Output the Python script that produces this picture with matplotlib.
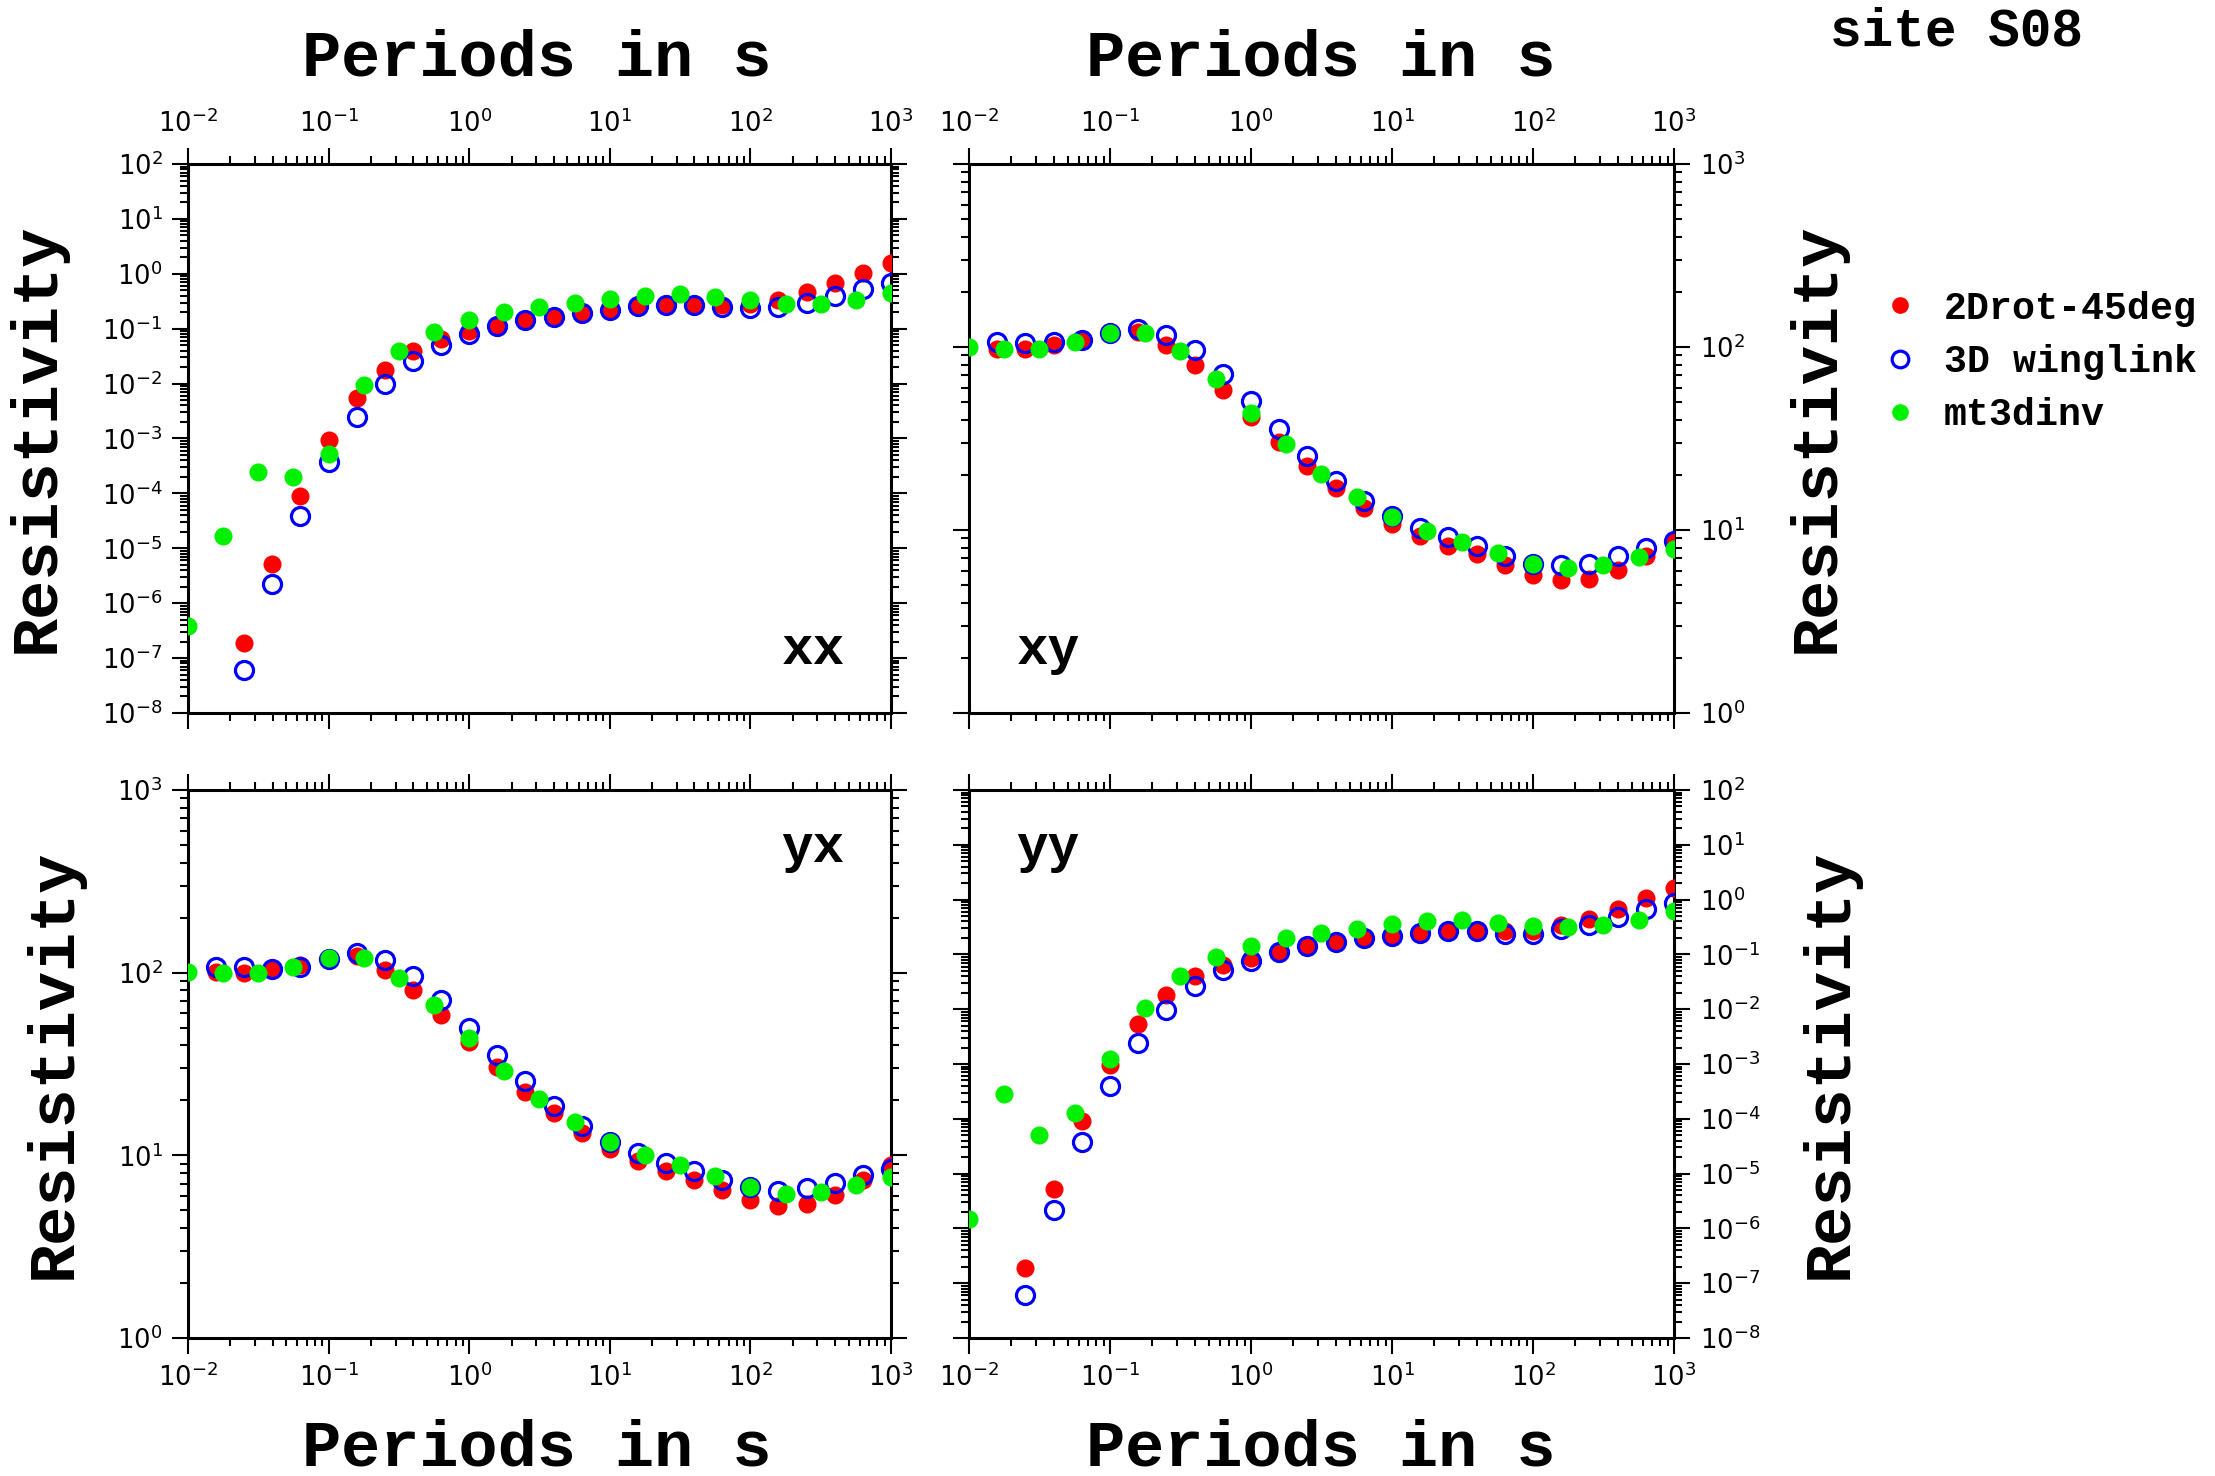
import numpy as np
import matplotlib
matplotlib.use("Agg")
import matplotlib.pyplot as plt
from matplotlib.ticker import LogLocator, FuncFormatter, NullFormatter
from matplotlib.lines import Line2D

plt.rcParams['font.family'] = ['DejaVu Sans']

nan = np.nan

# periods (s)
per_2d = [0.0158, 0.0251, 0.0398, 0.0631, 0.1, 0.158, 0.251, 0.398, 0.631, 1.0,
          1.58, 2.51, 3.98, 6.31, 10.0, 15.8, 25.1, 39.8, 63.1, 100.0,
          158.0, 251.0, 398.0, 631.0, 1000.0]
per_mt = [0.01, 0.0178, 0.0316, 0.0562, 0.1, 0.178, 0.316, 0.562, 1.0, 1.78,
          3.16, 5.62, 10.0, 17.8, 31.6, 56.2, 100.0, 178.0, 316.0, 562.0, 1000.0]

# xx
xx_2d = [nan, 1.9e-7, 5.1e-6, 9e-5, 9.5e-4, 5.5e-3, 0.018, 0.04, 0.066, 0.089,
         0.118, 0.15, 0.17, 0.2, 0.23, 0.26, 0.28, 0.27, 0.27, 0.28,
         0.34, 0.46, 0.68, 1.05, 1.6]
xx_3d = [nan, 6e-8, 2.2e-6, 3.8e-5, 3.8e-4, 2.5e-3, 9.8e-3, 0.026, 0.051, 0.079,
         0.11, 0.144, 0.163, 0.19, 0.22, 0.26, 0.27, 0.27, 0.25, 0.24,
         0.25, 0.30, 0.40, 0.52, 0.68]
xx_mt = [3.9e-7, 1.66e-5, 2.5e-4, 1.95e-4, 5.2e-4, 9.5e-3, 0.04, 0.087, 0.144, 0.2,
         0.25, 0.3, 0.35, 0.4, 0.42, 0.38, 0.34, 0.28, 0.28, 0.34, 0.45]

# xy
xy_2d = [98, 98, 102, 109, 120, 121, 103, 80, 58, 41.7,
         30.4, 22.3, 17, 13.2, 10.8, 9.3, 8.2, 7.35, 6.4, 5.66,
         5.3, 5.4, 6.07, 7.2, 8.7]
xy_3d = [107, 105, 106, 109, 120, 126, 117, 96, 71, 50.6,
         35.7, 25.4, 18.5, 14.4, 12, 10.3, 9.1, 8.2, 7.2, 6.55,
         6.4, 6.55, 7.2, 8.0, 8.7]
xy_mt = [100, 98, 98, 107, 119, 119, 95, 66.6, 43.8, 29.4,
         20.2, 15.1, 11.8, 9.9, 8.65, 7.5, 6.55, 6.17, 6.4, 7.1, 7.9]

# yx
yx_2d = [101, 100, 105, 110, 121, 123, 103, 80, 58.7, 41.5,
         30.6, 22.3, 17.1, 13.3, 10.8, 9.35, 8.2, 7.36, 6.5, 5.7,
         5.3, 5.4, 6.06, 7.36, 8.9]
yx_3d = [108, 107, 105, 108, 119, 128, 117, 96, 70.5, 50,
         35.3, 25.5, 18.6, 14.5, 11.9, 10.3, 9.1, 8.2, 7.3, 6.7,
         6.37, 6.6, 7.1, 7.8, 8.4]
yx_mt = [101, 99, 99, 107, 120, 120, 94, 66.8, 44, 29.1,
         20.3, 15.2, 11.9, 10.1, 8.8, 7.7, 6.7, 6.15, 6.3, 6.9, 7.6]

# yy
yy_2d = [nan, 1.9e-7, 5.2e-6, 9.2e-5, 9.5e-4, 5.4e-3, 0.018, 0.04, 0.064, 0.086,
         0.116, 0.143, 0.173, 0.197, 0.227, 0.26, 0.28, 0.28, 0.265, 0.27,
         0.345, 0.45, 0.68, 1.07, 1.65]
yy_3d = [nan, 6.1e-8, 2.2e-6, 3.8e-5, 3.9e-4, 2.4e-3, 9.8e-3, 0.026, 0.052, 0.076,
         0.11, 0.14, 0.165, 0.197, 0.22, 0.25, 0.27, 0.27, 0.24, 0.24,
         0.29, 0.345, 0.49, 0.66, 0.87]
yy_mt = [1.5e-6, 2.85e-4, 5.1e-5, 1.27e-4, 1.23e-3, 0.0107, 0.04, 0.088, 0.143, 0.2,
         0.25, 0.29, 0.36, 0.4, 0.42, 0.37, 0.33, 0.32, 0.34, 0.43, 0.61]

labels = ['2Drot-45deg', '3D winglink', 'mt3dinv']
c_red = '#ff0000'
c_blue = '#0000ff'
c_green = '#00f000'

W, H = 2215, 1476
fig = plt.figure(figsize=(W / 100, H / 100), dpi=100)

mono = dict(family='Liberation Mono', weight='bold')


def fx(px):
    return px / W


def fy(py):
    return 1 - py / H


def sci(v, pos):
    e = int(round(np.log10(v)))
    return r'$\mathregular{10^{%d}}$' % e


def panel(rect, d2, d3, dm, ylim, name, name_pos, xtop, yright):
    ax = fig.add_axes(rect)
    ax.set_xscale('log')
    ax.set_yscale('log')
    ax.plot(per_2d, d2, 'o', color=c_red, ms=13, mec='none', zorder=3)
    ax.plot(per_2d, d3, 'o', mfc='none', mec=c_blue, mew=2.3, ms=13, zorder=4)
    ax.plot(per_mt, dm, 'o', color=c_green, ms=13, mec='none', zorder=5)
    ax.set_xlim(1e-2, 1e3)
    ax.set_ylim(*ylim)
    for a in (ax.xaxis, ax.yaxis):
        a.set_major_locator(LogLocator(base=10, numticks=30))
        a.set_minor_locator(LogLocator(base=10, subs=np.arange(2, 10), numticks=30))
        a.set_major_formatter(FuncFormatter(sci))
        a.set_minor_formatter(NullFormatter())
    ax.tick_params(which='both', direction='out', top=True, bottom=True,
                   left=True, right=True, width=1.5, labelsize=18.5)
    ax.tick_params(which='major', length=11.5)
    ax.tick_params(which='minor', length=5.5)
    ax.tick_params(axis='x', pad=7, labeltop=xtop, labelbottom=not xtop)
    ax.tick_params(axis='y', pad=7, labelright=yright, labelleft=not yright)
    for s in ax.spines.values():
        s.set_linewidth(2.2)
    ax.text(name_pos[0], name_pos[1], name, transform=ax.transAxes,
            ha='center', va='baseline', fontsize=38, **mono)
    return ax


ax_xx = panel([fx(188), fy(713), fx(703), 549 / H], xx_2d, xx_3d, xx_mt,
              (1e-8, 1e2), 'xx', (0.889, 0.089), True, False)
ax_xy = panel([fx(969), fy(713), fx(705), 549 / H], xy_2d, xy_3d, xy_mt,
              (1e0, 1e3), 'xy', (0.112, 0.089), True, True)
ax_yx = panel([fx(188), fy(1338), fx(703), 548 / H], yx_2d, yx_3d, yx_mt,
              (1e0, 1e3), 'yx', (0.889, 0.869), False, False)
ax_yy = panel([fx(969), fy(1338), fx(705), 548 / H], yy_2d, yy_3d, yy_mt,
              (1e-8, 1e2), 'yy', (0.112, 0.869), False, True)

# axis titles
for xc in (537, 1321):
    fig.text(fx(xc), fy(75), 'Periods in s', ha='center', va='baseline', fontsize=47, **mono)
    fig.text(fx(xc), fy(1466), 'Periods in s', ha='center', va='baseline', fontsize=47, **mono)
for (xc, yc) in ((37, 438), (54, 1064), (1817, 438), (1830, 1064)):
    fig.text(fx(xc), fy(yc), 'Resistivity', rotation=90, ha='center', va='center',
             fontsize=47, **mono)

fig.text(fx(1956), fy(31), 'site S08', ha='center', va='center', fontsize=38, **mono)

handles = [Line2D([], [], ls='', marker='o', ms=12, color=c_red, mec='none'),
           Line2D([], [], ls='', marker='o', ms=12, mfc='none', mec=c_blue, mew=2.3),
           Line2D([], [], ls='', marker='o', ms=12, color=c_green, mec='none')]
fig.legend(handles, labels, loc='center left', bbox_to_anchor=(fx(1881), fy(362)),
           frameon=False, borderpad=0, borderaxespad=0, handlelength=1.0,
           handletextpad=0.65, labelspacing=0.45,
           prop=dict(family='Liberation Mono', weight='bold', size=27.5))

fig.savefig('out.png', dpi=100)
